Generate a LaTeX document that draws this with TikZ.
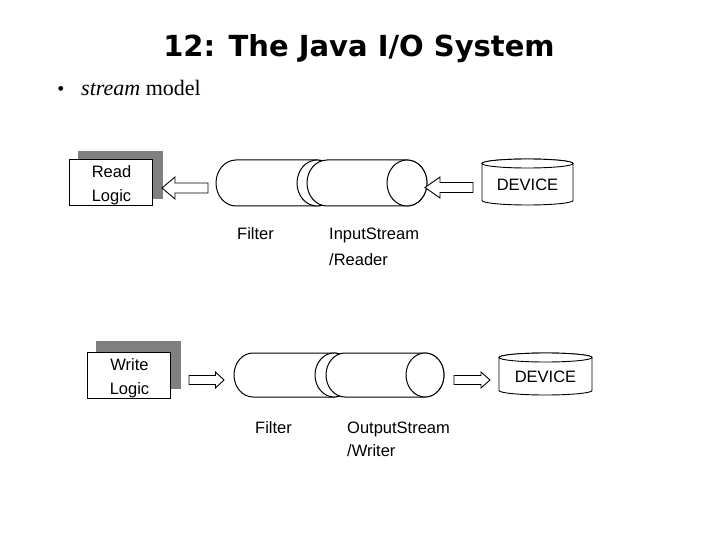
\documentclass[tikz,border=0pt]{standalone}
\usepackage{fontspec}
\setmainfont{Liberation Sans}
\newfontfamily\titlefont{DejaVu Sans}
\newfontfamily\bodyserif{Liberation Serif}
\usetikzlibrary{calc}
% block arrow between two named coordinates (horizontal); #3 signed head length
\newcommand\blockarrow[5]{%
  \draw[blockarrowstyle] ($(#1)+(0,#5)$) -- ($(#2)+({-(#3)},#5)$) -- ($(#2)+({-(#3)},#4)$) -- (#2)
    -- ($(#2)+({-(#3)},{-(#4)})$) -- ($(#2)+({-(#3)},{-(#5)})$) -- ($(#1)+(0,{-(#5)})$) -- cycle;}
% horizontal pipe: name, cx, cy, length, x radius, y radius
\newcommand\hpipe[6]{%
  \pgfmathsetmacro\pxa{#2-#4/2+#5}\pgfmathsetmacro\pxb{#2+#4/2-#5}%
  \filldraw[pipestyle] (\pxb,#3-#6) -- (\pxa,#3-#6)
    arc[start angle=270,end angle=90,x radius=#5,y radius=#6] -- (\pxb,#3+#6)
    arc[start angle=90,end angle=-90,x radius=#5,y radius=#6] -- cycle;
  \draw[pipestyle] (\pxb,#3) ellipse[x radius=#5,y radius=#6];
  \coordinate (#1) at (#2,#3);}
% vertical device drum: name, cx, cy, width, height, y radius, text, text y
\newcommand\vdevice[8]{%
  \pgfmathsetmacro\dyt{#3-#5/2+#6}\pgfmathsetmacro\dyb{#3+#5/2-#6}%
  \pgfmathsetmacro\dxl{#2-#4/2}\pgfmathsetmacro\dxr{#2+#4/2}\pgfmathsetmacro\drx{#4/2}%
  \filldraw[devstyle] (\dxl,\dyt) -- (\dxl,\dyb)
    arc[start angle=180,end angle=0,x radius=\drx,y radius=#6] -- (\dxr,\dyt)
    arc[start angle=0,end angle=-180,x radius=\drx,y radius=#6] -- cycle;
  \draw[devstyle] (#2,\dyt) ellipse[x radius=\drx,y radius=#6];
  \node[devtext] (#1) at (#2,#8) {#7};}
\begin{document}
\begin{tikzpicture}[x=1pt,y=-1pt,
  lbl/.style={font=\fontsize{16.5}{24}\selectfont, inner sep=0pt, anchor=base west},
  boxtext/.style={font=\fontsize{16.5}{24}\selectfont, inner sep=0pt, anchor=base},
  logicbox/.style={draw=black, line width=0.9pt, fill=white, minimum width=83pt, minimum height=46pt, inner sep=0pt},
  shadowbox/.style={fill=gray, draw=gray, minimum width=84pt, minimum height=47pt, inner sep=0pt},
  pipestyle/.style={draw=black, line width=1pt, fill=white},
  devstyle/.style={draw=black, line width=0.9pt, fill=white},
  devtext/.style={inner sep=0pt, font=\fontsize{16.5}{20}\selectfont},
  blockarrowstyle/.style={draw=black, line width=0.9pt, fill=white, line join=miter}
]
\fill[white] (0,0) rectangle (720,540);
\useasboundingbox (0,0) rectangle (720,540);

% title and bullet
\node[font=\titlefont\bfseries\fontsize{29}{34}\selectfont, anchor=base, inner sep=0pt] (title) at (359,57) {12: The Java I/O System};
\node[font=\bodyserif\fontsize{20}{24}\selectfont, anchor=base, inner sep=0pt] (bullet) at (61,96) {•};
\node[font=\bodyserif\fontsize{22}{26}\selectfont, anchor=base west, inner sep=0pt] (sub) at (81,96) {\textit{stream} model};

% ---------- input row ----------
\node[shadowbox] (readshadow) at (120,174.5) {};
\node[logicbox] (read) at (110.5,182) {};
\node[boxtext] (readt1) at (111.5,178) {Read};
\node[boxtext] (readt2) at (111.5,202) {Logic};
\hpipe{filter1}{276.5}{183}{121}{20}{23}
\hpipe{instream}{367}{183}{120}{20}{23}
\vdevice{dev1}{527.5}{182}{91}{46}{4.5}{DEVICE}{185}
\coordinate (a1tail) at (208,188);
\coordinate (a1tip) at (162,188);
\coordinate (a2tail) at (473,187.5);
\coordinate (a2tip) at (425,187.5);
\blockarrow{a1tail}{a1tip}{-13}{11}{5}
\blockarrow{a2tail}{a2tip}{-15}{10.5}{5}
\node[lbl] (lf1) at (237,240) {Filter};
\node[lbl] (lin1) at (329,240) {InputStream};
\node[lbl] (lin2) at (329,265) {/Reader};

% ---------- output row ----------
\node[shadowbox] (writeshadow) at (138.5,365) {};
\node[logicbox] (write) at (128.5,375) {};
\node[boxtext] (writet1) at (129.5,370) {Write};
\node[boxtext] (writet2) at (129.5,394) {Logic};
\hpipe{filter2}{293.5}{375}{119}{19}{22}
\hpipe{outstream}{385}{375}{118}{19}{22}
\vdevice{dev2}{545.5}{374}{93}{42}{4.5}{DEVICE}{377}
\coordinate (a3tail) at (189,380);
\coordinate (a3tip) at (224,380);
\coordinate (a4tail) at (454,380);
\coordinate (a4tip) at (490,380);
\blockarrow{a3tail}{a3tip}{8.5}{8}{4.5}
\blockarrow{a4tail}{a4tip}{9}{8}{4.5}
\node[lbl] (lf2) at (255,433) {Filter};
\node[lbl] (lout1) at (347,433) {OutputStream};
\node[lbl] (lout2) at (347,456) {/Writer};
\end{tikzpicture}
\end{document}
